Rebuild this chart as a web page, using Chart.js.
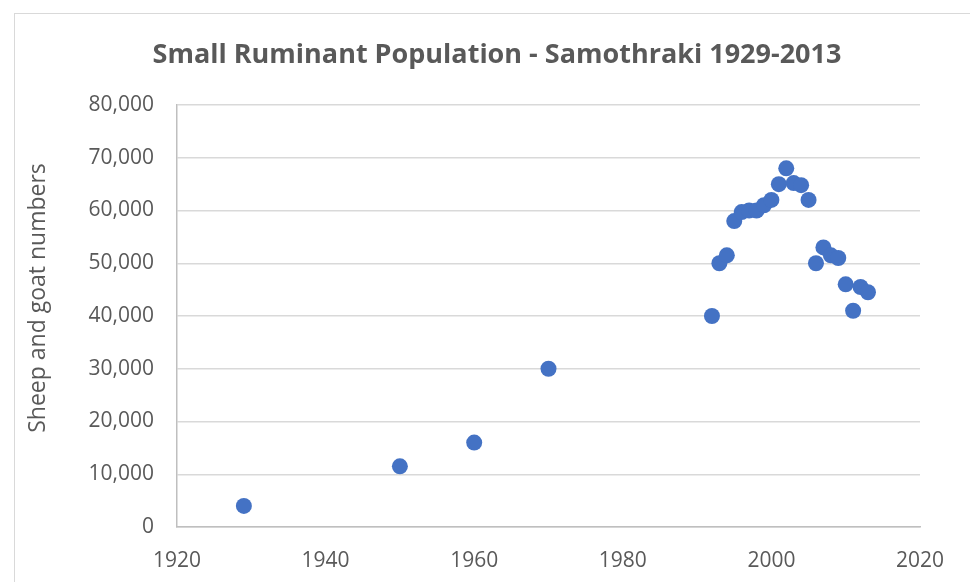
<!DOCTYPE html>
<html>
<head>
<meta charset="utf-8">
<script src="https://cdn.jsdelivr.net/npm/chart.js@4"></script>
<style>
  body { margin: 0; background: #fff; overflow: hidden; }
  .frame { position: absolute; left: 14px; top: 13px; width: 1000px; height: 700px; border: 1px solid #d9d9d9; }
  #wrap { position: absolute; left: 0; top: 0; width: 970px; height: 582px; }
</style>
</head>
<body>
<div class="frame"></div>
<div id="wrap"><canvas id="popChart" width="970" height="582"></canvas></div>
<script>
// Sheep and goats on Samothraki
const years = [1929, 1950, 1960, 1970, 1992, 1993, 1994, 1995, 1996, 1997, 1998, 1999, 2000,
  2001, 2002, 2003, 2004, 2005, 2006, 2007, 2008, 2009, 2010, 2011, 2012, 2013];
const animals = [4000, 11500, 16000, 30000, 40000, 50000, 51500, 58000, 59700, 60000, 60000, 61000, 62000,
  65000, 68000, 65200, 64800, 62000, 50000, 53000, 51500, 51000, 46000, 41000, 45500, 44500];
const yearTicks = [1920, 1940, 1960, 1980, 2000, 2020];
const countTicks = [0, 10000, 20000, 30000, 40000, 50000, 60000, 70000, 80000];

const chartTitle = 'Small Ruminant Population - Samothraki 1929-2013';
const yTitle = 'Sheep and goat numbers';

const textGrey = '#595959';
const fontFam = '"Open Sans", sans-serif';

// Title and y-axis title sit off-centre in the original (centred on the frame, not the plot)
const textPlugin = {
  id: 'chartTexts',
  afterDraw(chart) {
    const c = chart.ctx;
    c.save();
    c.fillStyle = textGrey;
    c.textAlign = 'center';
    c.textBaseline = 'alphabetic';
    c.font = 'bold 27px ' + fontFam;
    c.fillText(chartTitle, 497, 63);

    c.translate(38, 298);
    c.rotate(-Math.PI / 2);
    c.textBaseline = 'middle';
    c.font = '23px ' + fontFam;
    c.fillText(yTitle, 0, 0);
    c.restore();
  }
};

window.addEventListener('DOMContentLoaded', () => {
  const ctx = document.getElementById('popChart');
  new Chart(ctx.getContext('2d'), {
    type: 'scatter',
    data: {
      datasets: [{
        label: 'Sheep and goats',
        data: years.map((y, i) => ({ x: y, y: animals[i] })),
        backgroundColor: '#4472c4',
        borderWidth: 0,
        pointRadius: 8,
        pointHoverRadius: 8
      }]
    },
    options: {
      responsive: false,
      animation: false,
      layout: { padding: { left: 0, right: 50, top: 105, bottom: 0 } },
      plugins: {
        legend: { display: false },
        tooltip: { enabled: false },
        title: { display: false }
      },
      scales: {
        x: {
          type: 'linear',
          min: yearTicks[0],
          max: yearTicks[yearTicks.length - 1],
          afterBuildTicks: s => { s.ticks = yearTicks.map(v => ({ value: v })); },
          afterFit: s => { s.height = 55; },
          grid: { display: false, drawTicks: false },
          border: { color: '#bfbfbf', width: 1.5 },
          ticks: { color: textGrey, font: { family: fontFam, size: 21 }, padding: 21, callback: v => String(v) }
        },
        y: {
          min: countTicks[0],
          max: countTicks[countTicks.length - 1],
          afterBuildTicks: s => { s.ticks = countTicks.map(v => ({ value: v })); },
          afterFit: s => { s.width = 177; },
          grid: { color: '#d9d9d9', lineWidth: 1.5, drawTicks: false },
          border: { color: '#bfbfbf', width: 1.5 },
          ticks: {
            color: textGrey,
            font: { family: fontFam, size: 21 },
            padding: 23,
            callback: v => v.toLocaleString('en-US')
          }
        }
      }
    },
    plugins: [textPlugin]
  });
});
</script>
</body>
</html>
